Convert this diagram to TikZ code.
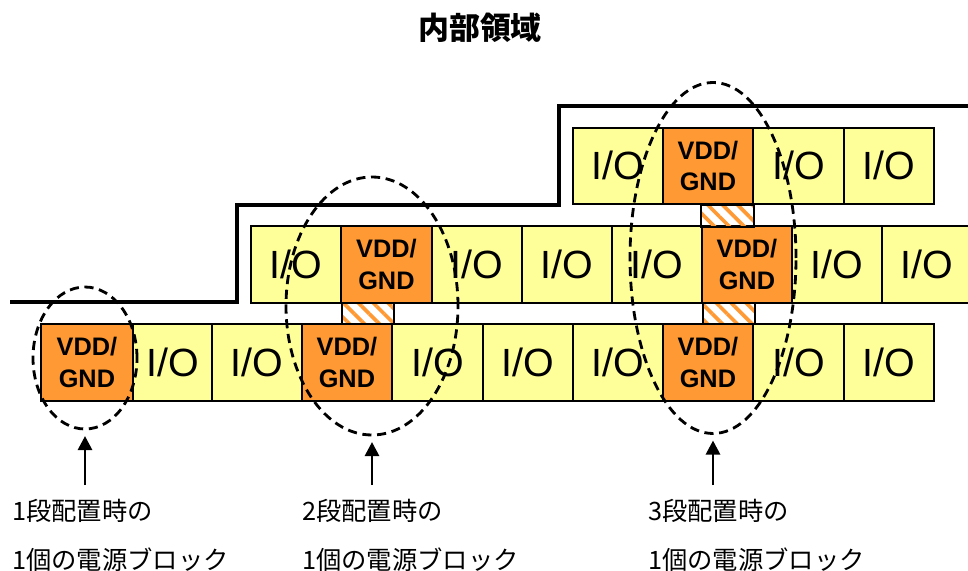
\documentclass[tikz,border=0pt]{standalone}
\usepackage{fontspec}
\setmainfont{Liberation Sans}
\newfontfamily\jpfont{Noto Sans CJK JP}
\usetikzlibrary{arrows.meta, patterns.meta, shapes.geometric}
\definecolor{ioYellow}{HTML}{FFFF99}
\definecolor{pwrOrange}{HTML}{FF9933}

\tikzset{
  cell/.style={draw=black, line width=1.3pt, anchor=north west, inner sep=0pt,
    minimum height=77*0.025cm},
  iocell/.style={cell, fill=ioYellow, font=\fontsize{28}{30}\selectfont},
  pwrcell/.style={cell, fill=pwrOrange, align=center,
    font=\fontsize{18}{22.5}\selectfont\bfseries},
  link/.style={draw=black, line width=1.3pt, anchor=north west, inner sep=0pt,
    minimum height=21*0.025cm,
    pattern={Lines[angle=-45, distance=7.5pt, line width=2.6pt]}, pattern color=pwrOrange},
  ring/.style={ellipse, draw=black, line width=2pt, inner sep=0pt,
    dash pattern=on 6.5pt off 4pt},
  pointer/.style={-{Triangle[length=10pt, width=10pt]}, line width=2pt, shorten >=4pt},
  caption/.style={font=\jpfont\fontsize{18}{20}\selectfont, anchor=base west, inner sep=0pt},
  wall/.style={line width=2.2pt}
}

\begin{document}
\begin{tikzpicture}[x=0.025cm, y=-0.025cm]
\useasboundingbox (0,0) rectangle (968,571);

\node[font=\jpfont\bfseries\fontsize{22}{24}\selectfont] (title) at (480,28) {内部領域};

% edge of the core area
\draw[wall] (10,302) -- (237,302) -- (237,205) -- (559,205) -- (559,106) -- (968,106);

% bottom row
\foreach \l/\r [count=\i] in {132/211, 211/301, 391/482, 482/572, 572/662, 752/843, 843/933}
  \node[iocell, minimum width={(\r-\l)*0.025cm}] (bio\i) at (\l,323) {I/O};
\foreach \l/\r [count=\i] in {40/132, 301/391, 662/752}
  \node[pwrcell, minimum width={(\r-\l)*0.025cm}] (bpw\i) at (\l,323) {VDD/\\GND};

% middle row
\foreach \l/\r [count=\i] in {250/340, 431/521, 521/611, 611/701, 791/881, 881/971}
  \node[iocell, minimum width={(\r-\l)*0.025cm}] (mio\i) at (\l,225) {I/O};
\foreach \l/\r [count=\i] in {340/431, 701/791}
  \node[pwrcell, minimum width={(\r-\l)*0.025cm}] (mpw\i) at (\l,225) {VDD/\\GND};

% top row
\foreach \l/\r [count=\i] in {572/662, 752/843, 843/933}
  \node[iocell, minimum width={(\r-\l)*0.025cm}, minimum height=76*0.025cm] (tio\i) at (\l,127) {I/O};
\node[pwrcell, minimum width=90*0.025cm, minimum height=76*0.025cm] (tpw1) at (662,127) {VDD/\\GND};

% hatched power links between rows
\node[link, minimum width=53*0.025cm, minimum height=22*0.025cm] (lnkA) at (699,203) {};
\node[link, minimum width=52*0.025cm] (lnkB) at (702,302) {};
\node[link, minimum width=52*0.025cm] (lnkC) at (341,302) {};

% power blocks
\node[ring, minimum width=104*0.025cm, minimum height=142*0.025cm] (ring1) at (85,358) {};
\node[ring, minimum width=172*0.025cm, minimum height=258*0.025cm] (ring2) at (372,306) {};
\node[ring, minimum width=166*0.025cm, minimum height=351*0.025cm] (ring3) at (713,258) {};

\coordinate (tail1) at (85,485);
\coordinate (tail2) at (372,485);
\coordinate (tail3) at (713,485);
\foreach \i in {1,2,3}
  \draw[pointer] (tail\i) -- (ring\i.south);

% captions
\foreach \x/\k [count=\i] in {12/1, 302/2, 648/3} {
  \node[caption] (cap\i) at (\x,520) {{\k}段配置時の};
  \node[caption] (unit\i) at (\x,569) {1個の電源ブロック};
}
\end{tikzpicture}
\end{document}
